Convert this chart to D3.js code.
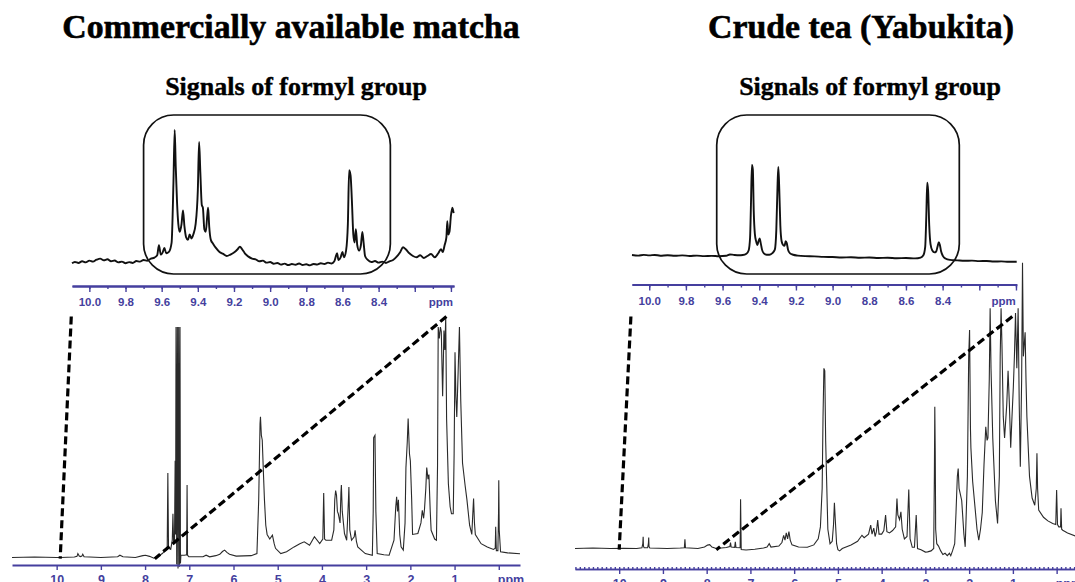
<!DOCTYPE html>
<html>
<head>
<meta charset="utf-8">
<script src="https://cdn.jsdelivr.net/npm/d3@7"></script>
<style>
  html, body { margin: 0; padding: 0; background: #fff; }
  svg { display: block; }
</style>
</head>
<body>
<svg id="chart" width="1075" height="582"></svg>
<script>
const panelTitles = ['Commercially available matcha', 'Crude tea (Yabukita)']
const insetTitle = 'Signals of formyl group'
const unitLabel = 'ppm'

const insetTicks = [10.0, 9.8, 9.6, 9.4, 9.2, 9.0, 8.8, 8.6, 8.4, 8.2, 8.0]
const insetTickLabels = ['10.0', '9.8', '9.6', '9.4', '9.2', '9.0', '8.8', '8.6', '8.4', '', '']
const mainTicks = [10, 9, 8, 7, 6, 5, 4, 3, 2, 1, 0]
const mainTickLabels = ['10', '9', '8', '7', '6', '5', '4', '3', '2', '1', '']

// rounded box around the formyl signals, in inset ppm
const boxPpmMatcha = [9.70, 8.335]
const boxPpmCrude = [9.632, 8.309]

// dashed connectors: top end in inset ppm, bottom end in full spectrum ppm
const connectorsMatcha = [{top: 10.1, bottom: 9.92}, {top: 8.025, bottom: 7.78}]
const connectorsCrude = [{top: 10.1, bottom: 10.0}, {top: 8.02, bottom: 7.78}]

// traced spectra: [ppm, relative intensity]
const insetMatcha = [
  [10.096, 0.5], [10.08, 1.5], [10.06, 0.8], [10.04, 2.0], [10.02, 1.2], [10.0, 2.5],
  [9.98, 1.8], [9.96, 3.2], [9.94, 4.0], [9.92, 2.8], [9.90, 3.5], [9.88, 2.0],
  [9.86, 2.6], [9.84, 1.2], [9.82, 1.8], [9.80, 0.6], [9.78, 1.4], [9.76, 0.8],
  [9.74, 2.2], [9.72, 1.8], [9.70, 3.0], [9.68, 2.4], [9.66, 4.0], [9.64, 4.8],
  [9.625, 6.5], [9.615, 14], [9.605, 7], [9.595, 8.5], [9.585, 12], [9.575, 8],
  [9.56, 9], [9.545, 16], [9.535, 60], [9.528, 100], [9.522, 72], [9.515, 46],
  [9.508, 30], [9.50, 24], [9.49, 30], [9.482, 40], [9.474, 28], [9.465, 20],
  [9.455, 18], [9.445, 22], [9.435, 19], [9.425, 22], [9.412, 30], [9.40, 55],
  [9.393, 91], [9.386, 68], [9.378, 44], [9.372, 42], [9.364, 26], [9.356, 24],
  [9.348, 36], [9.343, 42], [9.337, 28], [9.328, 18], [9.315, 15], [9.30, 12],
  [9.28, 9], [9.26, 7.5], [9.24, 6], [9.22, 7], [9.20, 8.5], [9.18, 11],
  [9.167, 13], [9.155, 11], [9.14, 8], [9.12, 5.5], [9.10, 4], [9.08, 3.5],
  [9.06, 2], [9.04, 2.5], [9.02, 1], [9.0, 1.5], [8.98, 0.2], [8.96, 0.8],
  [8.94, -0.5], [8.92, 0.3], [8.90, -0.8], [8.88, 0], [8.86, -0.6], [8.84, 0.4],
  [8.82, -0.8], [8.80, -0.2], [8.78, -1.0], [8.76, 0], [8.74, -0.4], [8.72, 0.6],
  [8.70, 0], [8.68, 1.0], [8.66, 0.4], [8.645, 2.0], [8.63, 8], [8.622, 3],
  [8.61, 5], [8.60, 9], [8.592, 5], [8.58, 10], [8.57, 30], [8.563, 70],
  [8.555, 66], [8.548, 48], [8.54, 22], [8.533, 16], [8.526, 26], [8.518, 14],
  [8.508, 10], [8.498, 14], [8.49, 24], [8.483, 16], [8.475, 6], [8.46, 3],
  [8.44, 1.5], [8.42, 2.2], [8.40, 1], [8.38, 1.8], [8.36, 0.8], [8.34, 2],
  [8.32, 3], [8.30, 5.5], [8.28, 9], [8.265, 12.5], [8.25, 11], [8.23, 8],
  [8.21, 6], [8.19, 5], [8.17, 6.5], [8.15, 4.5], [8.13, 6], [8.11, 7.5],
  [8.09, 5], [8.07, 8], [8.055, 11], [8.045, 9], [8.035, 14], [8.025, 20],
  [8.02, 32], [8.015, 22], [8.008, 24], [8.0, 36], [7.992, 42], [7.985, 38],
]

const insetCrude = [
  [10.094, 3.2], [10.06, 2.6], [10.03, 3.4], [10.0, 2.8], [9.97, 3.3], [9.94, 2.5],
  [9.9, 3.0], [9.86, 2.4], [9.82, 2.8], [9.78, 2.2], [9.74, 2.6], [9.70, 2.0],
  [9.66, 2.3], [9.62, 1.9], [9.58, 2.4], [9.56, 3.8], [9.54, 3.4], [9.51, 3.0],
  [9.49, 3.2], [9.47, 4.5], [9.458, 8], [9.45, 22], [9.445, 60], [9.44, 100],
  [9.435, 95], [9.43, 50], [9.424, 26], [9.417, 18], [9.41, 14], [9.404, 18],
  [9.398, 21], [9.392, 16], [9.385, 9], [9.375, 5], [9.36, 3.5], [9.345, 3.5],
  [9.33, 5], [9.315, 9], [9.307, 30], [9.30, 80], [9.296, 98], [9.291, 75],
  [9.285, 35], [9.278, 18], [9.27, 14], [9.262, 13], [9.256, 18], [9.25, 16],
  [9.243, 9], [9.232, 5], [9.215, 3.5], [9.19, 2.6], [9.15, 2.0], [9.1, 1.8],
  [9.05, 1.2], [9.0, 1.0], [8.95, 0.6], [8.9, 0.8], [8.85, 0.3], [8.8, 0.5],
  [8.75, 0], [8.7, 0.3], [8.65, -0.3], [8.6, 0], [8.55, -0.4], [8.52, 0.5],
  [8.505, 3], [8.495, 12], [8.489, 45], [8.484, 81], [8.479, 72], [8.473, 35],
  [8.466, 15], [8.456, 8], [8.445, 6], [8.435, 7], [8.428, 12], [8.421, 17],
  [8.415, 14], [8.408, 7], [8.398, 2], [8.385, -0.5], [8.36, -2], [8.32, -2.5],
  [8.28, -3], [8.24, -2.8], [8.2, -3.4], [8.16, -3.2], [8.12, -3.8], [8.08, -3.6],
  [8.04, -4.1], [7.996, -4],
]

const fullMatcha = [
  [11.01, 0], [10.5, 0.2], [10.0, 0], [9.91, 0], [9.6, 0.2], [9.54, 0.5],
  [9.52, 1.7], [9.49, 0.6], [9.46, 0.4], [9.43, 0.6], [9.41, 1.4], [9.38, 0.3],
  [9.0, 0], [8.62, 0.3], [8.57, 1.0], [8.5, 0.3], [8.22, 0], [8.05, 0.8],
  [7.99, 1.0], [7.9, 0.5], [7.8, -0.3], [7.72, 0.3], [7.61, 1.7], [7.54, 3.2],
  [7.50, 3.5], [7.485, 36.7], [7.47, 4], [7.42, 3.5], [7.385, 7.5], [7.37, 19],
  [7.355, 7], [7.335, 6], [7.32, 42], [7.31, 10], [7.30, 100], [7.285, -3],
  [7.27, 100], [7.255, -4.8], [7.24, 100], [7.225, -4], [7.21, 100], [7.20, -2.6],
  [7.19, 1], [7.11, 1], [7.06, 1.2], [7.05, 31.4],
  [7.04, 1], [7.01, 0.3], [6.69, 0.3], [6.62, 1.0], [6.54, 0.3], [6.40, 0.8],
  [6.31, 1.4], [6.25, 2.6], [6.20, 3.2], [6.15, 2.2], [6.09, 1.4], [5.94, 0.6],
  [5.6, 0.8], [5.47, 1.7], [5.43, 25], [5.40, 58], [5.39, 61], [5.37, 53],
  [5.35, 51], [5.32, 35], [5.30, 25], [5.27, 14], [5.24, 10], [5.18, 8],
  [5.12, 9.7], [5.08, 6], [5.05, 4], [4.93, 1.7], [4.80, 2.5], [4.63, 4.6],
  [4.50, 6], [4.40, 6.8], [4.28, 5.3], [4.17, 9], [4.05, 6], [3.98, 8],
  [3.96, 28], [3.94, 8], [3.91, 7.5], [3.78, 7.5], [3.73, 12], [3.71, 25],
  [3.69, 29], [3.67, 27], [3.65, 20], [3.63, 19], [3.59, 15], [3.57, 28],
  [3.56, 31.4], [3.54, 20], [3.49, 10.4], [3.44, 7.5], [3.40, 25], [3.39, 30.6],
  [3.37, 12], [3.33, 7.5], [3.27, 9], [3.25, 11.8], [3.22, 7], [3.19, 4.6],
  [3.02, 1.7], [2.86, 1], [2.84, 20], [2.83, 52], [2.80, 53], [2.78, 20],
  [2.75, 1.7], [2.6, 1.2], [2.48, 1], [2.37, 7.5], [2.33, 22], [2.31, 26.3],
  [2.29, 20], [2.27, 25], [2.24, 10], [2.21, 4.6], [2.16, 3.2], [2.12, 15],
  [2.10, 39], [2.07, 50], [2.05, 60.3], [2.02, 45], [2.0, 42], [1.97, 25],
  [1.95, 10], [1.83, 10.4], [1.76, 15], [1.73, 20.5], [1.70, 17], [1.68, 21],
  [1.65, 30], [1.63, 39], [1.60, 34], [1.58, 36], [1.55, 20], [1.53, 11.8],
  [1.45, 8], [1.41, 7.5], [1.385, 40], [1.37, 100], [1.345, 95], [1.32, 100],
  [1.30, 98], [1.27, 70], [1.24, 98.5], [1.22, 90], [1.20, 104], [1.18, 60],
  [1.14, 32], [1.10, 22], [1.07, 19], [1.03, 19], [1.01, 45], [0.99, 89],
  [0.97, 70], [0.95, 61], [0.92, 80], [0.89, 100], [0.86, 68], [0.82, 41],
  [0.76, 31], [0.72, 25], [0.66, 14], [0.61, 10], [0.59, 18], [0.57, 25.6],
  [0.55, 15], [0.53, 10], [0.4, 6], [0.26, 4.6], [0.12, 3.5], [0.08, 4],
  [0.07, 13.3], [0.055, 3], [0.02, 3], [0.005, 20], [0.0, 33.5], [-0.01, 12],
  [-0.04, 2.5], [-0.2, 2], [-0.48, 1.6],
]

const fullCrude = [
  [11.01, 0], [10.6, 0.2], [10.2, 0], [9.9, 0.1], [9.6, 0], [9.48, 0.3],
  [9.46, 2], [9.452, 4.9], [9.445, 1], [9.43, 0.3], [9.35, 0.3], [9.332, 2],
  [9.325, 4.6], [9.318, 0.8], [9.3, 0.2], [8.9, 0], [8.6, 0.2], [8.51, 0.3],
  [8.497, 3.8], [8.485, 0.3], [8.2, 0], [8.05, 0.6], [7.98, 1.4], [7.93, 1.6],
  [7.88, 0.6], [7.78, 0], [7.55, 0.4], [7.47, 0.8], [7.455, 2.5], [7.44, 0.6],
  [7.36, 0.5], [7.345, 2.8], [7.33, 0.4], [7.235, 0.3], [7.225, 20.5], [7.21, -0.4],
  [7.1, -0.6], [6.9, -0.3], [6.7, 0.2], [6.62, 0.6], [6.57, 2], [6.53, 0.6],
  [6.35, 1], [6.28, 2.5], [6.24, 5.5], [6.21, 3.5], [6.18, 6.5], [6.15, 4],
  [6.12, 7], [6.09, 3.5], [6.05, 1.5], [5.9, 0.6], [5.7, 0.5], [5.55, 1.5],
  [5.45, 4], [5.40, 9], [5.36, 25], [5.34, 55], [5.32, 75], [5.30, 74],
  [5.28, 45], [5.26, 30], [5.23, 8], [5.18, 2], [5.13, 3], [5.10, 10],
  [5.08, 19], [5.06, 12], [5.03, 2], [5.0, -0.5], [4.96, -1], [4.9, 0],
  [4.7, 1.5], [4.55, 3], [4.45, 5.5], [4.40, 4.5], [4.30, 6], [4.25, 9.7],
  [4.22, 6], [4.18, 8.5], [4.15, 5], [4.12, 7], [4.09, 11.8], [4.06, 6],
  [4.0, 6], [3.95, 7.5], [3.91, 13.9], [3.88, 7], [3.82, 6.5], [3.75, 7.5],
  [3.68, 9], [3.65, 20.8], [3.63, 14], [3.59, 12], [3.56, 15.3], [3.53, 8],
  [3.48, 4], [3.42, 5], [3.38, 24.6], [3.35, 4], [3.30, 0.5], [3.25, 0.5],
  [3.21, 13.9], [3.18, 0], [3.1, -0.5], [3.0, -1.5], [2.95, -1.4], [2.87, -1],
  [2.81, 0], [2.795, 30], [2.785, 59], [2.775, 40], [2.765, 8], [2.74, 2],
  [2.7, 1], [2.65, -1], [2.6, -2.5], [2.55, -2], [2.5, -3], [2.45, -2],
  [2.42, -3], [2.38, -1], [2.33, 2], [2.30, 15], [2.27, 30], [2.25, 33.3],
  [2.23, 25], [2.17, 20], [2.12, 6], [2.09, 0.7], [2.04, 30], [2.01, 80],
  [1.99, 91], [1.97, 50], [1.96, 42], [1.92, 28], [1.88, 20], [1.82, 8],
  [1.78, 3.5], [1.74, 8], [1.70, 15], [1.66, 35], [1.62, 50.7], [1.59, 45],
  [1.57, 46], [1.54, 70], [1.52, 100], [1.50, 75], [1.46, 46], [1.40, 20],
  [1.35, 10.4], [1.31, 30], [1.29, 80], [1.27, 100], [1.25, 85], [1.22, 55],
  [1.19, 46], [1.14, 60], [1.11, 74], [1.08, 60], [1.05, 42], [1.02, 55],
  [0.99, 67], [0.965, 80], [0.94, 98], [0.91, 75], [0.88, 100], [0.855, 60],
  [0.83, 34], [0.80, 70], [0.78, 119], [0.76, 80], [0.72, 90], [0.70, 70],
  [0.68, 55], [0.62, 30], [0.56, 21], [0.50, 18], [0.465, 25], [0.45, 39.6],
  [0.435, 25], [0.41, 16], [0.3, 13], [0.2, 11.5], [0.09, 10.4], [0.02, 10],
  [0.0, 24.3], [-0.02, 10], [-0.05, 9], [-0.09, 9], [-0.10, 16.7], [-0.115, 8],
  [-0.14, 7.6], [-0.25, 6.5], [-0.44, 5.1],
]

const AXIS_COLOR = '#453f9e'
const SERIF = '"Liberation Serif", "Times New Roman", serif'
const SANS = '"Liberation Sans", Arial, sans-serif'

const panels = [
  {
    title: panelTitles[0], titleX: 291, subtitleX: 296,
    inset: insetMatcha, insetX: [[10.096, 7.983], [72, 454]], insetY: [264, 130], insetAxisY: 286,
    box: boxPpmMatcha,
    full: fullMatcha, fullX: [[11.01, -0.48], [12, 520]], fullY: [557.5, 327], fullAxisY: 565,
    connectors: connectorsMatcha, minorMain: false,
  },
  {
    title: panelTitles[1], titleX: 861, subtitleX: 870,
    inset: insetCrude, insetX: [[10.094, 7.996], [632, 1016.7]], insetY: [258, 165], insetAxisY: 284.5,
    box: boxPpmCrude,
    full: fullCrude, fullX: [[11.01, -0.42], [575, 1075]], fullY: [548.5, 308.3], fullAxisY: 569,
    connectors: connectorsCrude, minorMain: true,
  },
]

const svg = d3.select('#chart')

const styleAxis = (g, width) => {
  g.select('.domain').attr('stroke', AXIS_COLOR).attr('stroke-width', width)
  g.selectAll('.tick line').attr('stroke', AXIS_COLOR).attr('stroke-width', 1.4)
  g.selectAll('.tick text')
    .attr('fill', AXIS_COLOR)
    .attr('font-family', SANS)
    .attr('font-weight', 'bold')
}

panels.forEach(p => {
  const g = svg.append('g')

  g.append('text')
    .attr('x', p.titleX)
    .attr('y', 38)
    .attr('text-anchor', 'middle')
    .attr('font-family', SERIF)
    .attr('font-weight', 'bold')
    .attr('font-size', 33.8)
    .attr('stroke', '#000')
    .attr('stroke-width', 0.6)
    .text(p.title)

  g.append('text')
    .attr('x', p.subtitleX)
    .attr('y', 95)
    .attr('text-anchor', 'middle')
    .attr('font-family', SERIF)
    .attr('font-weight', 'bold')
    .attr('font-size', 26)
    .attr('stroke', '#000')
    .attr('stroke-width', 0.4)
    .text(insetTitle)

  // inset spectrum
  const xi = d3.scaleLinear().domain(p.insetX[0]).range(p.insetX[1])
  const yi = d3.scaleLinear().domain([0, 100]).range(p.insetY)

  g.append('path')
    .datum(p.inset)
    .attr('fill', 'none')
    .attr('stroke', '#111')
    .attr('stroke-width', 1.9)
    .attr('stroke-linejoin', 'round')
    .attr('d', d3.line().x(d => xi(d[0])).y(d => yi(d[1])).curve(d3.curveMonotoneX))

  g.append('rect')
    .attr('x', xi(p.box[0]))
    .attr('y', 115)
    .attr('width', xi(p.box[1]) - xi(p.box[0]))
    .attr('height', 159)
    .attr('rx', 30)
    .attr('fill', 'none')
    .attr('stroke', '#111')
    .attr('stroke-width', 1.7)

  const insetMinor = g.append('g')
    .attr('transform', `translate(0,${p.insetAxisY})`)
    .call(d3.axisBottom(xi).tickValues(xi.ticks(20)).tickSize(3).tickSizeOuter(0).tickFormat(''))
  styleAxis(insetMinor, 2)

  const insetAxis = g.append('g')
    .attr('transform', `translate(0,${p.insetAxisY})`)
    .call(d3.axisBottom(xi)
      .tickValues(insetTicks)
      .tickSize(6)
      .tickSizeOuter(0)
      .tickPadding(6)
      .tickFormat((d, i) => insetTickLabels[i]))
  styleAxis(insetAxis, 2)
  insetAxis.selectAll('.tick text').attr('font-size', 11.5)

  g.append('text')
    .attr('x', p.insetX[1][1] - 1)
    .attr('y', p.insetAxisY + 20)
    .attr('text-anchor', 'end')
    .attr('fill', AXIS_COLOR)
    .attr('font-family', SANS)
    .attr('font-weight', 'bold')
    .attr('font-size', 11.5)
    .text(unitLabel)

  // full spectrum
  const xf = d3.scaleLinear().domain(p.fullX[0]).range(p.fullX[1])
  const yf = d3.scaleLinear().domain([0, 100]).range(p.fullY)

  g.append('path')
    .datum(p.full)
    .attr('fill', 'none')
    .attr('stroke', '#2a2a2a')
    .attr('stroke-width', 1.1)
    .attr('d', d3.line().x(d => xf(d[0])).y(d => yf(d[1])))

  if (p.minorMain) {
    const minor = g.append('g')
      .attr('transform', `translate(0,${p.fullAxisY})`)
      .call(d3.axisTop(xf).tickValues(xf.ticks(115)).tickSize(2).tickSizeOuter(0).tickFormat(''))
    styleAxis(minor, 1.6)
  }

  const mainAxis = g.append('g')
    .attr('transform', `translate(0,${p.fullAxisY})`)
    .call(d3.axisBottom(xf)
      .tickValues(mainTicks)
      .tickSize(5)
      .tickSizeOuter(0)
      .tickPadding(5)
      .tickFormat((d, i) => mainTickLabels[i]))
  styleAxis(mainAxis, p.minorMain ? 1.6 : 2.2)
  mainAxis.selectAll('.tick text').attr('font-size', 12.5)

  g.append('text')
    .attr('x', xf(0) - 1)
    .attr('y', p.fullAxisY + 19)
    .attr('fill', AXIS_COLOR)
    .attr('font-family', SANS)
    .attr('font-weight', 'bold')
    .attr('font-size', 12.5)
    .text(unitLabel)

  // dashed connectors from the inset axis down to the full spectrum
  g.append('g')
    .selectAll('line')
    .data(p.connectors)
    .join('line')
    .attr('x1', d => xi(d.top))
    .attr('y1', 316.5)
    .attr('x2', d => xf(d.bottom))
    .attr('y2', yf(-0.5))
    .attr('stroke', '#000')
    .attr('stroke-width', 3.2)
    .attr('stroke-dasharray', '8,4')
})
</script>
</body>
</html>
